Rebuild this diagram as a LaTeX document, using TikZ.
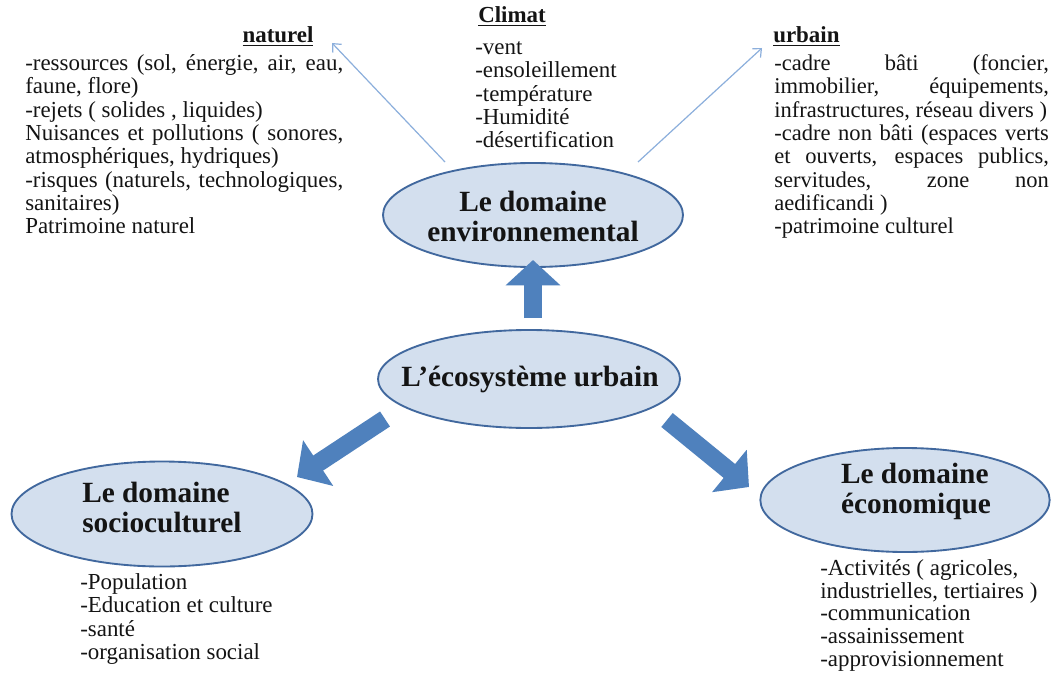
\documentclass[tikz,border=0pt]{standalone}
\usepackage{fontspec}
\setmainfont{Liberation Serif}
\usetikzlibrary{arrows.meta,shapes.geometric}
\definecolor{ellfill}{HTML}{D3DFEE}
\definecolor{elldraw}{HTML}{41689E}
\definecolor{arrfill}{HTML}{4F81BD}
\definecolor{thinarr}{HTML}{8CAFDC}
\definecolor{txt}{HTML}{141414}
\newcommand{\jl}[1]{\makebox[238.5pt][s]{#1}}
\newcommand{\jr}[1]{\makebox[206pt][s]{#1}}
\begin{document}
\begin{tikzpicture}[x=0.75pt,y=-0.75pt,
  dom/.style={ellipse, draw=elldraw, fill=ellfill, line width=1.4pt, inner sep=0pt},
  domtext/.style={inner sep=0pt, font=\fontsize{22}{22.5}\selectfont\bfseries, text=txt},
  body/.style={inner sep=0pt, anchor=north west, align=left, font=\fontsize{17.2}{17.5}\selectfont, text=txt},
  rbody/.style={inner sep=0pt, anchor=north west, align=left, font=\fontsize{16.9}{17.5}\selectfont, text=txt},
  head/.style={inner sep=0pt, font=\fontsize{17.2}{17.5}\selectfont\bfseries, text=txt},
  bigarrow/.style={draw=arrfill, line width=13.5pt, -{Triangle[length=19pt,width=40pt]}},
  thinarrow/.style={draw=thinarr, line width=0.9pt, -{Straight Barb[length=5pt,width=9pt]}}]
\useasboundingbox (0,0) rectangle (1052,674);
\fill[white] (0,0) rectangle (1052,674);

% ellipses
\node[dom, minimum width=225pt, minimum height=78pt] (env) at (533,215) {};
\node[dom, minimum width=226.5pt, minimum height=73.5pt] (eco) at (529,379) {};
\node[dom, minimum width=225.75pt, minimum height=78.75pt] (soc) at (162,514) {};
\node[dom, minimum width=217pt, minimum height=78pt] (ecn) at (905,500) {};

\node[domtext, align=center] (envT) at (533,216) {Le domaine\\environnemental};
\node[domtext] (ecoT) at (530,379) {L’écosystème urbain};
\node[domtext, align=left, anchor=west] (socT) at (82,507) {Le domaine\\socioculturel};
\node[domtext, align=left] (ecnT) at (916,491) {Le domaine\\économique};

% headers
\node[head, anchor=base] (natH) at (278,43) {\underline{naturel}};
\node[head, anchor=base] (cliH) at (512,23) {\underline{Climat}};
\node[head, anchor=base west] (urbH) at (773,43) {\underline{urbain}};

% text blocks
\node[body] (natB) at (25,54) {\strut\jl{-ressources (sol, énergie, air, eau,}\\
faune, flore)\\
-rejets ( solides , liquides)\\
\jl{Nuisances et pollutions ( sonores,}\\
atmosphériques, hydriques)\\
\jl{-risques (naturels, technologiques,}\\
sanitaires)\\
Patrimoine naturel};

\node[body] (cliB) at (475,38) {\strut -vent\\
-ensoleillement\\
-température\\
-Humidité\\
-désertification};

\node[rbody] (urbB) at (774,54) {\strut\jr{-cadre bâti (foncier,}\\
\jr{immobilier, équipements,}\\
infrastructures, réseau divers )\\
\jr{-cadre non bâti (espaces verts}\\
\jr{et ouverts, espaces publics,}\\
\jr{servitudes, zone non}\\
aedificandi )\\
-patrimoine culturel};

\node[body] (socB) at (80,573) {\strut -Population\\
-Education et culture\\
-santé\\
-organisation social};

\node[body, font=\fontsize{17.2}{17.1}\selectfont] (ecnB) at (820,559) {\strut -Activités ( agricoles,\\
industrielles, tertiaires )\\
-communication\\
-assainissement\\
-approvisionnement};

% big arrows
\coordinate (upS) at (533,318);
\coordinate (upE) at (533,260);
\coordinate (lfS) at (385,419);
\coordinate (lfE) at (297,477);
\coordinate (rtS) at (667,420);
\coordinate (rtE) at (749,487);
\draw[bigarrow] (upS) -- (upE);
\draw[bigarrow] (lfS) -- (lfE);
\draw[bigarrow] (rtS) -- (rtE);

% thin arrows
\coordinate (nS) at (445,162);
\coordinate (nE) at (332,43);
\coordinate (uS) at (638,162);
\coordinate (uE) at (762,48);
\draw[thinarrow] (nS) -- (nE);
\draw[thinarrow] (uS) -- (uE);
\end{tikzpicture}
\end{document}
